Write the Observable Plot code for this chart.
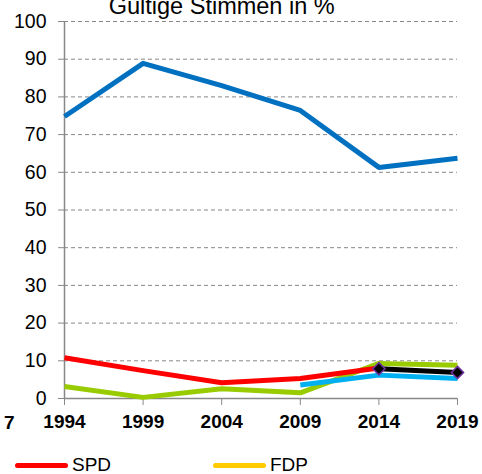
<!DOCTYPE html>
<html><head><meta charset="utf-8">
<script src="https://cdn.jsdelivr.net/npm/d3@7"></script>
<script src="https://cdn.jsdelivr.net/npm/@observablehq/plot@0.6"></script>
<style>
body{margin:0;background:#fff;font-family:"Liberation Sans",Arial,sans-serif;}
#wrap{position:relative;width:482px;height:474px;overflow:hidden;}
.leg{position:absolute;top:454px;height:22px;display:flex;align-items:center;font-size:19px;line-height:22px;color:#000;}
.leg span.l{display:inline-block;width:53px;height:5px;border-radius:3px;margin-right:4px;}
</style></head>
<body><div id="wrap"></div>
<script>
const years = [1994, 1999, 2004, 2009, 2014, 2019];
const cdu = [74.8, 88.9, 83.0, 76.4, 61.3, 63.7];
const spd = [10.8, 7.4, 4.2, 5.3, 8.1, null];
const gruene = [3.2, 0.3, 2.6, 1.5, 9.3, 8.8];
const linke = [null, null, null, 3.6, 6.2, 5.3];
const afd = [null, null, null, null, 7.9, 6.9];
const yTicks = [0,10,20,30,40,50,60,70,80,90,100];
const title = "Gültige Stimmen in %";

const toRows = (vals, name) => years.map((y,i)=>({year:y, v:vals[i], name})).filter(d=>d.v!=null);
const series = [
  {rows: toRows(gruene,"Grüne"), color:"#99CC00"},
  {rows: toRows(spd,"SPD"), color:"#FF0000"},
  {rows: toRows(linke,"Linke"), color:"#00B0F0"},
  {rows: toRows(afd,"AfD"), color:"#000000"},
  {rows: toRows(cdu,"CDU"), color:"#0070C0"}
];

const H = 440;
const chart = Plot.plot({
  width: 482, height: H,
  marginLeft: 64, marginRight: 25, marginTop: 21, marginBottom: H-398,
  style: {fontFamily:'"Liberation Sans", Arial, sans-serif', fontSize:"19px", color:"#000", overflow:"visible"},
  x: {domain:[1994,2019], ticks: years, tickFormat: d=>String(d), label:null},
  y: {domain:[0,100], ticks: yTicks, label:null},
  marks: [
    Plot.gridY(yTicks.filter(t=>t>0), {stroke:"#888", strokeOpacity:1, strokeDasharray:"4,3", strokeWidth:1}),
    Plot.ruleY([0], {stroke:"#888", strokeWidth:1.5}),
    Plot.ruleX([1994], {stroke:"#888", strokeWidth:1.5}),
    Plot.axisY({ticks:yTicks, tickSize:6, tickPadding:12, stroke:"#888", fontSize:19.5}),
    Plot.axisX({ticks:years, tickSize:7, tickPadding:9, stroke:"#888", fontSize:19, fontWeight:"bold", tickFormat:d=>String(d)}),
    ...series.map(s => Plot.line(s.rows, {x:"year", y:"v", stroke:s.color, strokeWidth:5, strokeLinejoin:"round", strokeLinecap:"butt"})),
    Plot.dot(toRows(afd,"AfD"), {x:"year", y:"v", symbol:"diamond2", r:5.5, fill:"#000", stroke:"#7030A0", strokeWidth:1.5}),
    Plot.text([title], {x:[2004], y:[100], dy:-8, lineAnchor:"bottom", fontSize:23.5, fill:"#000"}),
    Plot.text(["7"], {x:[1994], y:[0], dx:-50, dy:24, textAnchor:"end", fontSize:19, fontWeight:"bold", fill:"#000"})
  ]
});
const wrap = document.getElementById("wrap");
wrap.appendChild(chart);
const legend = [{name:"SPD", color:"#FF0000", left:15},{name:"FDP", color:"#FFCC00", left:213}];
for (const l of legend) {
  const d = document.createElement("div");
  d.className = "leg"; d.style.left = l.left + "px";
  d.innerHTML = `<span class="l" style="background:${l.color}"></span>${l.name}`;
  wrap.appendChild(d);
}
</script></body></html>
